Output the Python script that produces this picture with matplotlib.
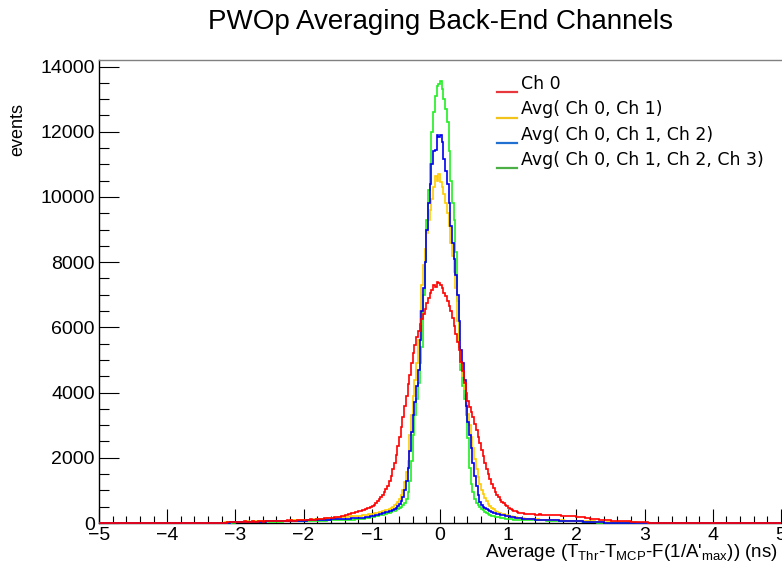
import numpy as np
import matplotlib
matplotlib.use("Agg")
import matplotlib.pyplot as plt
from matplotlib.lines import Line2D
from matplotlib.ticker import MultipleLocator

plt.rcParams['font.family'] = ['Liberation Sans', 'DejaVu Sans']
plt.rcParams['mathtext.fontset'] = 'custom'
plt.rcParams['mathtext.rm'] = 'Liberation Sans'
plt.rcParams['mathtext.it'] = 'Liberation Sans'

# ---------------- data ----------------
title = "PWOp Averaging Back-End Channels"
x_range = (-5.0, 5.0)
n_bins_total = 400            # 0.025 ns bins over [-5, 5]
left_start_bin = 72           # -3.2 ns
core_start_bin = 152          # -1.2 ns
right_start_bin = 248         # +1.2 ns
labels = ["Ch 0", "Avg( Ch 0, Ch 1)", "Avg( Ch 0, Ch 1, Ch 2)", "Avg( Ch 0, Ch 1, Ch 2, Ch 3)"]

# ---- Ch 0 ----
ch0_left = [0, 0, 15, 25, 30, 35, 20, 30, 40, 35, 25, 35, 45, 50, 30, 40, 45, 35, 55, 45,
            40, 50, 60, 50, 45, 55, 65, 55, 50, 60, 70, 60, 55, 65, 75, 70, 60, 70, 80, 70,
            85, 75, 65, 75, 95, 85, 80, 90, 100, 90, 95, 105, 115, 105, 100, 110, 125, 115, 130, 135,
            140, 145, 150, 155, 160, 165, 170, 180, 185, 195, 205, 220, 235, 250, 270, 290, 300, 320, 335, 350]
ch0_core = [360, 380, 395, 410, 425, 450, 470, 500,
            530, 560, 600, 680, 730, 800, 870, 950,
            1030, 1150, 1280, 1450, 1650, 1850, 2100, 2350,
            2650, 2950, 3250, 3600, 3900, 4250, 4550, 4900,
            5200, 5450, 5700, 5900, 6100, 6250, 6400, 6550,
            6750, 6900, 7050, 7150, 7300, 7250, 7400, 7350,
            7300, 7200, 7050, 6950, 6800, 6650, 6500, 6300,
            6050, 5800, 5550, 5300, 4950, 4650, 4300, 4000,
            3750, 3550, 3400, 3250, 3050, 2850, 2650, 2450,
            2250, 2050, 1850, 1650, 1500, 1350, 1200, 1080,
            960, 870, 790, 720, 650, 600, 550, 510,
            470, 440, 410, 380, 360, 340, 320, 310]
ch0_right = [300, 290, 285, 280, 275, 270, 270, 265, 260, 255, 270, 260, 255, 250, 250, 245, 240, 250, 255, 245,
             240, 235, 235, 230, 230, 225, 220, 215, 215, 210, 205, 200, 195, 190, 180, 175, 170, 160, 150, 140,
             135, 130, 120, 115, 110, 105, 100, 95, 90, 90, 85, 80, 75, 75, 70, 65, 65, 60, 60, 55,
             55, 50, 50, 50, 45, 45, 40, 40, 40, 35, 35, 30, 30, 25, 0, 0, 0, 0, 0, 0]

# ---- Avg(Ch 0, Ch 1) ----
avg01_left = [0, 0, 25, 35, 40, 40, 30, 40, 40, 40, 45, 45, 40, 45, 50, 50, 45, 45, 55, 50,
              50, 55, 55, 55, 60, 55, 55, 60, 65, 60, 60, 65, 70, 70, 65, 70, 75, 75, 70, 75,
              80, 80, 85, 85, 80, 85, 90, 90, 95, 95, 100, 100, 105, 105, 110, 115, 120, 120, 125, 125,
              130, 135, 140, 145, 150, 155, 160, 165, 170, 170, 175, 180, 185, 190, 195, 200, 205, 210, 215, 220]
avg01_core = [220, 230, 235, 245, 250, 260, 265, 275,
              285, 295, 305, 315, 330, 345, 360, 375,
              390, 410, 440, 470, 500, 540, 580, 640,
              730, 850, 1000, 1250, 1550, 1900, 2700, 3300,
              3900, 4400, 4900, 5600, 6500, 7300, 7900, 8400,
              8900, 9300, 9600, 9950, 10300, 10650, 10500, 10700,
              10450, 10300, 10100, 9800, 9500, 9100, 8600, 8200,
              7700, 7200, 6200, 5400, 4900, 4500, 4100, 3700,
              3350, 3000, 2650, 2300, 1950, 1650, 1400, 1200,
              1020, 880, 760, 660, 580, 510, 460, 420,
              380, 350, 320, 300, 280, 265, 250, 235,
              220, 210, 195, 185, 175, 165, 155, 150]
avg01_right = [140, 135, 130, 125, 120, 120, 115, 115, 110, 110, 105, 105, 100, 100, 95, 95, 90, 90, 90, 85,
               85, 85, 80, 80, 80, 75, 75, 75, 70, 70, 70, 65, 65, 65, 60, 60, 60, 55, 55, 55,
               50, 50, 50, 45, 45, 45, 45, 40, 40, 40, 40, 35, 35, 35, 35, 30, 30, 30, 30, 25,
               25, 25, 25, 20, 20, 20, 20, 15, 15, 10, 0, 0, 0, 0, 0, 0, 0, 0, 0, 0]

# ---- Avg(Ch 0, Ch 1, Ch 2) ----
avg012_left = [0, 0, 0, 0, 0, 20, 25, 25, 25, 25, 30, 30, 30, 30, 35, 35, 35, 35, 40, 40,
               40, 40, 45, 45, 45, 45, 50, 50, 50, 50, 55, 55, 55, 55, 60, 60, 60, 60, 65, 65,
               65, 65, 70, 70, 70, 70, 75, 75, 75, 75, 80, 80, 85, 85, 85, 85, 90, 90, 95, 95,
               100, 100, 105, 105, 110, 110, 115, 115, 120, 120, 125, 125, 130, 130, 135, 135, 140, 140, 145, 145]
avg012_core = [150, 155, 160, 165, 175, 180, 190, 200,
               210, 220, 235, 250, 265, 280, 295, 310,
               330, 345, 360, 380, 400, 430, 470, 520,
               580, 660, 800, 1000, 1300, 1700, 2200, 2800,
               3300, 3700, 4200, 4700, 5600, 6500, 7200, 8000,
               9000, 9800, 10400, 11000, 11400, 11450, 11900, 11850,
               11900, 11700, 11150, 10800, 10400, 9800, 9100, 8600,
               8100, 7600, 7000, 6200, 5300, 4900, 4400, 3600,
               3100, 2700, 2300, 1850, 1450, 1150, 850, 650,
               560, 500, 460, 420, 390, 360, 340, 320,
               300, 285, 270, 255, 245, 235, 225, 215,
               205, 195, 185, 175, 165, 155, 150, 145]
avg012_right = [135, 130, 125, 120, 120, 115, 110, 110, 105, 105, 100, 100, 95, 95, 90, 90, 85, 85, 80, 80,
                80, 80, 75, 75, 70, 70, 65, 65, 65, 65, 60, 60, 55, 55, 50, 50, 45, 45, 40, 40,
                35, 35, 30, 30, 25, 25, 20, 20, 0, 0, 0, 0, 0, 0, 0, 0, 0, 0, 0, 0,
                0, 0, 0, 0, 0, 0, 0, 0, 0, 0, 0, 0, 0, 0, 0, 0, 0, 0, 0, 0]

# ---- Avg(Ch 0, Ch 1, Ch 2, Ch 3) ----
avg0123_left = [0, 0, 0, 0, 0, 0, 0, 15, 20, 20, 20, 20, 25, 25, 25, 25, 30, 30, 30, 30,
                30, 30, 35, 35, 35, 35, 40, 40, 40, 40, 40, 40, 45, 45, 45, 45, 50, 50, 50, 50,
                50, 50, 55, 55, 55, 55, 60, 60, 60, 60, 65, 65, 65, 65, 70, 70, 70, 70, 75, 75,
                75, 75, 80, 80, 80, 80, 85, 85, 90, 90, 90, 90, 95, 95, 100, 100, 105, 105, 110, 110]
avg0123_core = [115, 120, 128, 135, 145, 155, 165, 175,
                185, 195, 210, 220, 235, 250, 260, 275,
                290, 305, 320, 340, 360, 380, 400, 420,
                450, 490, 550, 620, 750, 950, 1300, 1900,
                2700, 3300, 3800, 4300, 4900, 5400, 7000, 8000,
                9300, 10200, 11000, 12000, 12600, 13100, 13400, 13450,
                13550, 13300, 13000, 12700, 12300, 11400, 10500, 9800,
                9300, 8300, 6800, 5400, 4700, 4200, 3800, 3300,
                2600, 1700, 1200, 950, 750, 620, 540, 480,
                430, 390, 350, 310, 280, 250, 230, 210,
                195, 180, 170, 160, 150, 140, 132, 125,
                120, 115, 110, 107, 104, 102, 100, 97]
avg0123_right = [95, 95, 92, 90, 90, 88, 86, 85, 85, 83, 82, 80, 80, 78, 76, 75, 75, 73, 72, 70,
                 70, 68, 66, 65, 65, 63, 62, 60, 60, 58, 56, 55, 52, 50, 47, 45, 42, 40, 37, 35,
                 32, 30, 27, 25, 0, 0, 0, 0, 0, 0, 0, 0, 0, 0, 0, 0, 0, 0, 0, 0,
                 0, 0, 0, 0, 0, 0, 0, 0, 0, 0, 0, 0, 0, 0, 0, 0, 0, 0, 0, 0]

y_max = 14200
hist_colors = {"ch0": "#ff0000", "avg01": "#ffcc00", "avg012": "#0000ee", "avg0123": "#22ee22"}
legend_colors = ["#e8383d", "#f2c31a", "#1f70d0", "#4caf45"]

# ---------------- figure ----------------
W, H = 782, 569
fig = plt.figure(figsize=(W / 100, H / 100), dpi=100)
ax = fig.add_axes([99 / W, 1 - 523 / H, 682 / W, 463 / H])

edges = np.linspace(x_range[0], x_range[1], n_bins_total + 1)


def full(left, core, right):
    assert len(left) == 80 and len(core) == 96 and len(right) == 80, (len(left), len(core), len(right))
    arr = np.zeros(n_bins_total)
    arr[left_start_bin:left_start_bin + len(left)] = left
    arr[core_start_bin:core_start_bin + len(core)] = core
    arr[right_start_bin:right_start_bin + len(right)] = right
    return arr


series = [("avg0123", (avg0123_left, avg0123_core, avg0123_right)),
          ("avg01", (avg01_left, avg01_core, avg01_right)),
          ("avg012", (avg012_left, avg012_core, avg012_right)),
          ("ch0", (ch0_left, ch0_core, ch0_right))]
for z, (key, parts) in enumerate(series):
    ax.stairs(full(*parts), edges, color=hist_colors[key], lw=1.2, zorder=3 + z,
              baseline=None, clip_on=False)

ax.set_xlim(*x_range)
ax.set_ylim(0, y_max)

ax.xaxis.set_major_locator(MultipleLocator(1))
ax.xaxis.set_minor_locator(MultipleLocator(0.2))
ax.yaxis.set_major_locator(MultipleLocator(2000))
ax.yaxis.set_minor_locator(MultipleLocator(500))

ax.tick_params(axis='x', which='major', direction='in', length=10, width=0.8, labelsize=14, pad=3)
ax.tick_params(axis='x', which='minor', direction='in', length=5, width=0.8)
ax.tick_params(axis='y', which='major', direction='in', length=14.4, width=0.8, labelsize=14, pad=3)
ax.tick_params(axis='y', which='minor', direction='in', length=7.2, width=0.8)

for s in ['left', 'bottom']:
    ax.spines[s].set_linewidth(1.0)
    ax.spines[s].set_color('black')
ax.spines['top'].set_color('#808080')
ax.spines['top'].set_linewidth(1.0)
ax.spines['right'].set_visible(False)

# titles
fig.text(441 / W, 1 - 22 / H, title, ha='center', va='center', fontsize=20)
fig.text(18 / W, 1 - 130 / H, "events", rotation=90, ha='center', va='center', fontsize=13)
fig.text(778 / W, 1 - 557 / H,
         r"Average (T$_{\rm Thr}$-T$_{\rm MCP}$-F(1/A'$_{\rm max}$)) (ns)",
         ha='right', va='baseline', fontsize=13.5)

# legend (drawn as text + sample lines)
row_y = [84, 109.5, 135, 160]
for lab, col, yc in zip(labels, legend_colors, row_y):
    fig.text(521 / W, 1 - yc / H, lab, ha='left', va='center', fontsize=12.5,
             family=['DejaVu Sans'])
    fig.add_artist(Line2D([497 / W, 517 / W], [1 - (yc + 8) / H] * 2, color=col, lw=1.6))

fig.savefig("out.png", dpi=100)
